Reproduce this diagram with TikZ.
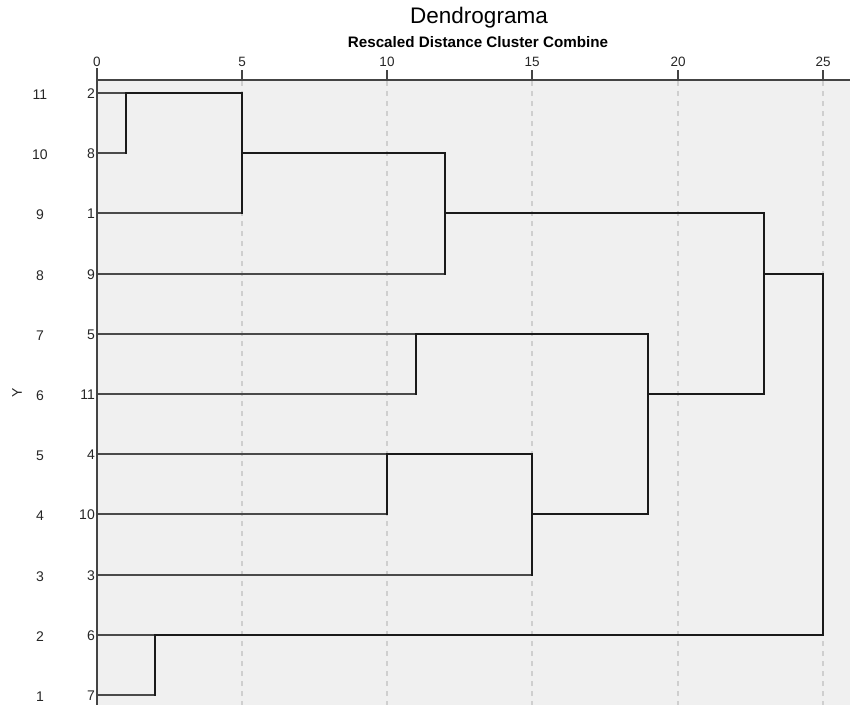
\documentclass[tikz,border=0pt]{standalone}
\usepackage{fontspec}
\setmainfont{Liberation Sans}
\definecolor{plotbg}{HTML}{F0F0F0}
\definecolor{gridc}{HTML}{CFCFCF}
\definecolor{axisc}{HTML}{444444}
\definecolor{leafc}{HTML}{4A4A4A}
\definecolor{clusc}{HTML}{1A1A1A}
\begin{document}
\begin{tikzpicture}[x=1pt,y=-1pt,
  leafline/.style={draw=leafc,line width=1.8pt},
  clusline/.style={draw=clusc,line width=2pt,line cap=rect},
  gridline/.style={draw=gridc,line width=1.4pt,dash pattern=on 5pt off 5pt},
  axisline/.style={draw=axisc,line width=1.8pt},
  ticklab/.style={font=\fontsize{13.5}{15}\selectfont,text=black!85,inner sep=0pt},
  leaflab/.style={font=\fontsize{14}{16}\selectfont,text=black!85,inner sep=0pt,anchor=east},
  rowlab/.style={font=\fontsize{14}{16}\selectfont,text=black!85,inner sep=0pt}]
\useasboundingbox (0,0) rectangle (850,705);
% background of plot area
\fill[plotbg] (97,80) rectangle (850,705);
% grid
\foreach \gx in {242,387,532,678,823}{
  \draw[gridline] (\gx,81) -- (\gx,705);
}
% titles
\node[font=\fontsize{22.5}{26}\selectfont,inner sep=0pt] (title) at (479,18) {Dendrograma};
\node[font=\bfseries\fontsize{15.2}{17}\selectfont,inner sep=0pt] (subtitle) at (478,42) {Rescaled Distance Cluster Combine};
% axis
\coordinate (ax0) at (97,80);
\coordinate (ax1) at (850,80);
\coordinate (axtop) at (97,68);
\coordinate (axbot) at (97,705);
\draw[axisline] (ax0) -- (ax1);
\draw[axisline] (axtop) -- (axbot);
\foreach \v/\gx in {0/97,5/242,10/387,15/532,20/678,25/823}{
  \node[ticklab] (tl\v) at (\gx,62) {\v};
  \draw[axisline] (\gx,70) -- (\gx,80);
}
% Y label
\node[rowlab,rotate=90] (ylab) at (17,393) {Y};
% row labels and leaf labels
\foreach \i/\yy/\lf in {11/93/2,10/153/8,9/213/1,8/274/9,7/334/5,6/394/11,5/454/4,4/514/10,3/575/3,2/635/6,1/695/7}{
  \node[rowlab] (row\i) at (40,\yy+2) {\i};
  \node[leaflab] (lab\lf) at (95,\yy+1) {\lf};
  \coordinate (L\lf) at (98,\yy);
}
% merge points
\coordinate (m1a) at (126,93);      \coordinate (m1b) at (126,153);
\coordinate (m2a) at (242,93);      \coordinate (m2b) at (242,213);  \coordinate (m2c) at (242,153);
\coordinate (m3a) at (445,153);     \coordinate (m3b) at (445,274);  \coordinate (m3c) at (445,213);
\coordinate (m4a) at (416,334);     \coordinate (m4b) at (416,394);
\coordinate (m5a) at (387,454);     \coordinate (m5b) at (387,514);
\coordinate (m6a) at (532,454);     \coordinate (m6b) at (532,575);  \coordinate (m6c) at (532,514);
\coordinate (m7a) at (648,334);     \coordinate (m7b) at (648,514);  \coordinate (m7c) at (648,394);
\coordinate (m8a) at (764,213);     \coordinate (m8b) at (764,394);  \coordinate (m8c) at (764,274);
\coordinate (m9a) at (823,274);     \coordinate (m9b) at (823,635);
\coordinate (m10a) at (155,635);    \coordinate (m10b) at (155,695);
% leaf lines
\draw[leafline] (L2) -- (m1a);
\draw[leafline] (L8) -- (m1b);
\draw[leafline] (L1) -- (m2b);
\draw[leafline] (L9) -- (m3b);
\draw[leafline] (L5) -- (m4a);
\draw[leafline] (L11) -- (m4b);
\draw[leafline] (L4) -- (m5a);
\draw[leafline] (L10) -- (m5b);
\draw[leafline] (L3) -- (m6b);
\draw[leafline] (L6) -- (m10a);
\draw[leafline] (L7) -- (m10b);
% cluster lines
\draw[clusline] (m1b) -- (m1a) -- (m2a) -- (m2b);
\draw[clusline] (m3a) -- (m2c);
\draw[clusline] (m3a) -- (m3b);
\draw[clusline] (m3c) -- (m8a) -- (m8b);
\draw[clusline] (m4b) -- (m4a) -- (m7a) -- (m7b);
\draw[clusline] (m5b) -- (m5a) -- (m6a) -- (m6b);
\draw[clusline] (m6c) -- (m7b);
\draw[clusline] (m7c) -- (m8b);
\draw[clusline] (m8c) -- (m9a) -- (m9b);
\draw[clusline] (m10b) -- (m10a) -- (m9b);
\end{tikzpicture}
\end{document}
